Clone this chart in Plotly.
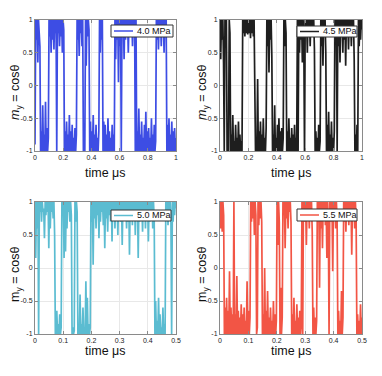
import numpy as np
import plotly.graph_objects as go
from plotly.subplots import make_subplots

# m_y, one sample every ~0.005 us (top) / ~0.0025 us (bottom)
m_40 = [-0.9, 1, 0.7, 1, 0.35, 1, 0.8, 0.6,
        -1, -0.7, -1, -0.3, -1, -0.75, -1, -0.25, -1, -0.65, -1, -0.8,
        1, 0.75, 1, 0.5, 1, 0.7, 1, 0.55, 1, 0.8, 1,
        -1,
        1, 0.8, 1, 0.6, 1, 0.75, 1, 0.5, 1, 0.85,
        -1, -0.7, -1, -0.55, -1, -0.75, -1, -0.45, -1, -0.7, -1, -0.6, -1, -0.8, -1, -0.65, -1, -0.75,
        1, 0.7, 1, 0.45, 1, 0.8, 1, 0.6, 1,
        -1, -0.8, -1,
        1, 0.3, 1, 0.75, 1, 0.85,
        -1, -0.55, -1, -0.7, -1, -0.45, -1, -0.75, -1, -0.6, -1, -0.8, -1, -0.7,
        1, 0.5, 1, 0.7, 1,
        -1, -0.55, -1, -0.6, -1, -0.75, -1, -0.5, -1, -0.7, -1, -0.8, -1, -0.6, -1, -0.75, -1,
        1, 0.4, 1, 0.7, 1, 0.05, 1, 0.6, 1,
        -1,
        1, 0.8, 1, 0.4, 1, 0.7, 1, 0.85, 1, 0.5, 1, 0.75, 1, 0.9, 1, 0.6, 1, 0.8, 1,
        -1, 1,
        -1, -0.7, -1, -0.35, -1, -0.75, -1, -0.55, -1, -0.8, -1, -0.6, -1, -0.4, -1, -0.7,
        -1, -0.65, -1, -0.8, -1, -0.5, -1, -0.75, -1, -0.6, -1, -0.85,
        1, 0.7, 1, 0.55, 1, 0.8, 1, 0.6, 1, 0.75, 1, 0.5, 1, 0.85, 1,
        -1, -0.6, -1, -0.5, -1, -0.75, -1, -0.55, -1, -0.7, -1, -0.65, -1, -0.8]

m_45 = [1, 0.4, 1, 0.7, 1, 0.35,
        -1,
        1, 0.75, 1,
        -1, -0.8, -1,
        1, 0.8,
        -1, -0.75, -1, -0.45, -1, -0.85, -1, -0.6, -1, -0.8, -1, -0.55, -1, -0.75, -1, -0.85, -1,
        1, 0.8, 1, 0.75, 1, 0.8, 1, 0.78, 1, 0.8, 1, 0.72, 1, 0.8, 1, 0.75, 1, 0.15,
        -1, -0.8, -1, 0.1, -1, -0.7, -1, -0.55, -1, -0.75, -1, -0.5, -1, -0.8, -1, -0.65,
        1, 0.6, 1, 0.2, 1, 0.7, 1, 0.45,
        -1, -0.75, -1, -0.3, -1, -0.8, -1, -0.6, -1, -0.5, -1, -0.7, -1, -0.65, -1, -0.8,
        1, 0.6, 1, 0.8,
        -1, -0.7, -1, -0.5, -1, -0.8, -1, -0.65, -1, -0.75, -1, -0.6, -1, -0.8, -1,
        1, -1,
        1, 0.5, 1, 0.7, 1, 0.35, 1, 0.8,
        -1,
        1, 0.8, 1, 0.5, 1, 0.85, 1, 0.6, 1, 0.75, 1, 0.9, 1, 0.55,
        -1, -0.7, -1, -0.8, -1, -0.6, -1, -0.85,
        1, 0.6, 1, 0.3, 1, 0.75, 1, 0.5,
        -1, -0.6, -1, -0.4, -1, -0.75, -1, -0.55, -1, -0.8, -1, -0.7,
        1, 0.7, 1,
        -1,
        1, 0.6, 1, 0.35, 1, 0.8, 1, 0.5, 1, 0.7, 1, 0.3, 1, 0.85, 1, 0.55, 1, 0.75, 1, 0.6, 1, 0.8, 1, 0.4,
        -1, -0.75, -1, -0.6, -1,
        1, 0.6, 1, 0.7, 1, 0.85]

m_50 = [1, 0.15, 1, 0.6, 1,
        -1,
        1, 0.85, 1, 0.7, 1, 0.85, 0.9, 0.45, 1, 0.8, 1, 0.85, 1, 0.3, 1, 0.6, 1, 0.85, 1, 0.75, 1, 0.5,
        -1,
        -1, -0.65, -1, -0.85, -1, -0.7, -1, -0.9,
        1, 0.8, 1, 0.15, 1, 0.25, 1, 0.6, 1, 0.85, 1, 0.7, 1, 0.8,
        -1, -0.9, -1, -0.95,
        1, 0.7, 1, 0.85,
        -1, -0.9, -1, -0.4, -1, -0.85, -1, -0.6, -1, -0.9, -1, -0.2, -1, -0.45, -1, -0.85, -1, -0.9,
        1, 0.7, 1, 0.05, 1, 0.75, 1, 0.6, 1, 0.8, 1, 0.45, 1, 0.7, 1, 0.85, 1, 0.65, 1, 0.3,
        1, 0.75, 1, 0.55, 1, 0.8, 1, 0.7, 1, 0.4, 1, 0.85, 1, 0.6, 1, 0.75, 1, 0.5, 1, 0.8,
        1, 0.7, 1, 0.35, 1, 0.75, 1, 0.85, 1, 0.6, 1, 0.7, 1, 0.2, 1, 0.8, 1, 0.65, 1, 0.75,
        1, 0.5, 1, 0.8, 1, 0.15, 1, 0.7, 1, 0.85, 1, 0.55, 1, 0.75, 1, 0.6, 1, 0.8, 1, 0.4,
        1, 0.7, 1, 0.85, 1, 0.6, 1, 0.75,
        -1, -0.5, -1, -0.8, -1, -0.45, -1, -0.7, -1, -0.9, -1, -0.6, -1, -0.85, -1,
        1, 0.8, 1, 0.65, 1, 0.85, 1, 0.75,
        -1,
        1, 0.7, 1, 0.8, 1, 0.9]

m_55 = [1, 0.6, 1, 0.55, 1, 0.8,
        -1, -0.6, -1, -0.45, -1, -0.65, -1, -0.05, -1, -0.6, -1, -0.7, -1,
        1,
        -1, -0.7, -1, -0.12, -1, -0.65, -1, -0.75, -1, -0.55, -1, -0.7, -1, -0.6, -1, -0.8, -1, -0.2, -1, -0.65, -1, -0.75,
        1, 0.7, 1, 0.75, 1, 0.5, 1, 0.8,
        -1, -0.9,
        1, 0.65, 1, 0.75, 1, 0.7,
        -1, -0.7, -1, 0.0, -1, -0.65, -1, -0.35, -1, -0.75, -1, -0.6, -1, -0.8, -1, -0.5, -1, -0.7, -1, -0.8,
        1, 0.35, 1, 0.7,
        -1, -0.3, -1, -0.75,
        1, 0.8, 1, 0.3, 1, 0.75, 1, 0.6, 1, 0.85, 1, 0.7,
        -1, -0.7, -1, -0.45, -1, -0.8, -1, -0.55, -1, -0.75, -1, -0.65, -1, -0.85,
        1, -1, 1,
        1, 0.7, 1, 0.35, 1, 0.75, 1, 0.6, 1, 0.8, 1, 0.55,
        -1, -0.6, -1, -0.75, -1, -0.8,
        1, 0.75, 1, -0.3, 1, 0.6, 1, 0.3, 1, 0.8, 1, 0.65, 1, 0.15, 1, 0.7,
        -1, 1,
        1, 0.7, 1, -0.05, 1, 0.8, 1, 0.6, 1, 0.75,
        -1, -0.65, -1, -0.8, -1, -0.35, -1, -0.75,
        1, 0.7, 1, 0.55, 1, 0.8, 1, 0.65, 1, 0.75, 1, 0.2, 1, 0.8, 1, 0.6, 1, 0.7,
        -1, -0.7, -1, -0.8, -1, -0.55, -1, -0.75]

t_end = [1.0, 1.0, 0.5, 0.5]
names = ["4.0 MPa", "4.5 MPa", "5.0 MPa", "5.5 MPa"]
colors = ["#3d4de4", "#1e1e1e", "#5bbcd1", "#f25545"]
series = [m_40, m_45, m_50, m_55]

# the page body has an 8px margin, so the figure is a bit smaller than the window
OFF = 8
W, H = 366, 360


def px(x):
    return (x - OFF) / W


def py(y):
    return 1 - (y - OFF) / H


fig = make_subplots(rows=2, cols=2)

x_dom = [[px(35), px(176)], [px(220), px(362)]]
y_dom = [[py(151), py(20)], [py(334), py(202)]]

axis_style = dict(showline=True, mirror="ticks", linecolor="#8a8a8a", linewidth=1,
                  ticks="inside", ticklen=3, tickcolor="#8a8a8a",
                  showgrid=True, gridcolor="#e8e8e8", zeroline=False, automargin=False,
                  tickfont=dict(size=7, color="#222"))

for k in range(4):
    r, c = k // 2 + 1, k % 2 + 1
    t = np.linspace(0, t_end[k], len(series[k]))
    fig.add_trace(go.Scatter(x=t, y=series[k], mode="lines", name=names[k],
                             line=dict(color=colors[k], width=1.7),
                             showlegend=False), row=r, col=c)
    dt = 0.2 if k < 2 else 0.1
    fig.update_xaxes(range=[0, t_end[k]], dtick=dt, domain=x_dom[c-1],
                     **axis_style, row=r, col=c)
    fig.update_yaxes(range=[-1, 1], tickvals=[-1, -0.5, 0, 0.5, 1],
                     ticktext=["-1", "-0.5", "0", "0.5", "1"], domain=y_dom[r-1],
                     **axis_style, row=r, col=c)

# axis titles
title_font = dict(size=12.5, color="#111")
xt_x = [105, 291]
xt_y = [173, 351]
yt_x = [16, 203]
yt_y = [93, 275]
for k in range(4):
    r, c = k // 2, k % 2
    fig.add_annotation(xref="paper", yref="paper", x=px(xt_x[c]), y=py(xt_y[r]),
                       text="time μs", showarrow=False, font=title_font,
                       xanchor="center", yanchor="middle")
    ytitle = "<i>m</i><sub>y</sub> = cosθ" if k < 2 else "m<sub>y</sub> = cosθ"
    fig.add_annotation(xref="paper", yref="paper", x=px(yt_x[c]), y=py(yt_y[r]),
                       text=ytitle, showarrow=False, font=title_font, textangle=-90,
                       xanchor="center", yanchor="middle")

# MATLAB-style legend boxes (page pixel positions)
leg_box = [(111, 25, 173, 37), (297, 26, 357, 37), (111, 210, 171, 221), (297, 209, 357, 221)]
for k in range(4):
    x0, y0, x1, y1 = leg_box[k]
    fig.add_shape(type="rect", xref="paper", yref="paper",
                  x0=px(x0), x1=px(x1), y0=py(y1), y1=py(y0),
                  line=dict(color="#333", width=1), fillcolor="white", layer="above")
    ym = py((y0 + y1) / 2)
    fig.add_shape(type="line", xref="paper", yref="paper",
                  x0=px(x0 + 3), x1=px(x0 + 22), y0=ym, y1=ym,
                  line=dict(color=colors[k], width=1.5), layer="above")
    fig.add_annotation(xref="paper", yref="paper", x=px(x0 + 24), y=ym,
                       xanchor="left", yanchor="middle", text=names[k], showarrow=False,
                       font=dict(size=9, color="#111"))

fig.update_layout(width=W, height=H, margin=dict(l=0, r=0, t=0, b=0),
                  paper_bgcolor="white", plot_bgcolor="white",
                  font=dict(family="Arial, Liberation Sans, sans-serif"))

fig.write_html("out.html")
